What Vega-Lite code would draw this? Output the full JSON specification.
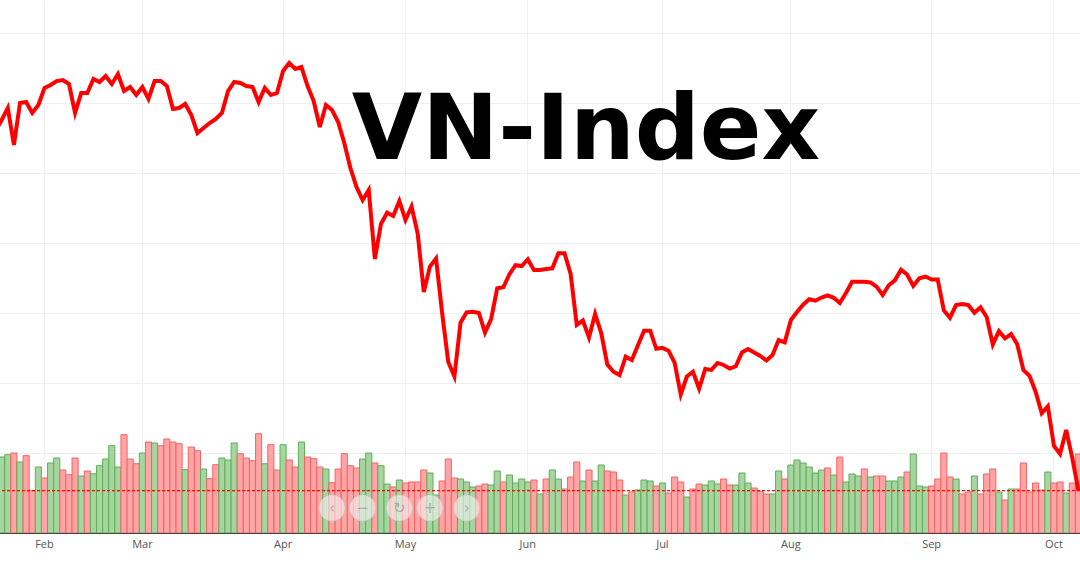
{
"$schema": "https://vega.github.io/schema/vega-lite/v6.json",
"width": 1080, "height": 533,
"autosize": {"type": "none"},
"padding": {"left": 0, "top": 0, "right": 0, "bottom": 51},
"background": "white",
"config": {"view": {"stroke": null}},
"title": {"text": "VN-Index", "font": "DejaVu Sans", "fontSize": 91, "fontWeight": "bold", "color": "#000000", "anchor": "middle", "frame": "group", "orient": "top", "baseline": "alphabetic", "offset": 0, "dx": 46, "dy": 250},
"datasets": {
"days": [
{"date":"2022-01-19","close":1448.0,"volume":700,"dir":"down"},
{"date":"2022-01-20","close":1460.6,"volume":760,"dir":"up"},
{"date":"2022-01-21","close":1474.3,"volume":783,"dir":"up"},
{"date":"2022-01-24","close":1432.0,"volume":800,"dir":"down"},
{"date":"2022-01-25","close":1480.0,"volume":710,"dir":"up"},
{"date":"2022-01-26","close":1481.1,"volume":773,"dir":"down"},
{"date":"2022-01-27","close":1468.6,"volume":426,"dir":"down"},
{"date":"2022-01-28","close":1477.7,"volume":660,"dir":"up"},
{"date":"2022-02-07","close":1497.1,"volume":550,"dir":"down"},
{"date":"2022-02-08","close":1500.6,"volume":700,"dir":"up"},
{"date":"2022-02-09","close":1505.1,"volume":750,"dir":"up"},
{"date":"2022-02-10","close":1506.3,"volume":630,"dir":"down"},
{"date":"2022-02-11","close":1501.7,"volume":583,"dir":"down"},
{"date":"2022-02-14","close":1468.6,"volume":750,"dir":"down"},
{"date":"2022-02-15","close":1491.4,"volume":570,"dir":"up"},
{"date":"2022-02-16","close":1491.4,"volume":620,"dir":"down"},
{"date":"2022-02-17","close":1507.4,"volume":593,"dir":"up"},
{"date":"2022-02-18","close":1504.0,"volume":673,"dir":"up"},
{"date":"2022-02-21","close":1510.9,"volume":740,"dir":"up"},
{"date":"2022-02-22","close":1501.7,"volume":873,"dir":"up"},
{"date":"2022-02-23","close":1513.1,"volume":660,"dir":"up"},
{"date":"2022-02-24","close":1493.7,"volume":983,"dir":"down"},
{"date":"2022-02-25","close":1498.3,"volume":740,"dir":"down"},
{"date":"2022-02-28","close":1489.1,"volume":693,"dir":"down"},
{"date":"2022-03-01","close":1498.3,"volume":800,"dir":"up"},
{"date":"2022-03-02","close":1484.6,"volume":910,"dir":"down"},
{"date":"2022-03-03","close":1505.1,"volume":900,"dir":"up"},
{"date":"2022-03-04","close":1505.1,"volume":873,"dir":"down"},
{"date":"2022-03-07","close":1499.4,"volume":940,"dir":"down"},
{"date":"2022-03-08","close":1473.1,"volume":910,"dir":"down"},
{"date":"2022-03-09","close":1474.3,"volume":893,"dir":"down"},
{"date":"2022-03-10","close":1478.9,"volume":633,"dir":"up"},
{"date":"2022-03-11","close":1466.3,"volume":860,"dir":"down"},
{"date":"2022-03-14","close":1445.7,"volume":823,"dir":"down"},
{"date":"2022-03-15","close":1451.4,"volume":640,"dir":"up"},
{"date":"2022-03-16","close":1457.1,"volume":543,"dir":"down"},
{"date":"2022-03-17","close":1461.7,"volume":683,"dir":"down"},
{"date":"2022-03-18","close":1468.6,"volume":750,"dir":"up"},
{"date":"2022-03-21","close":1493.7,"volume":730,"dir":"up"},
{"date":"2022-03-22","close":1504.0,"volume":900,"dir":"up"},
{"date":"2022-03-23","close":1502.9,"volume":793,"dir":"down"},
{"date":"2022-03-24","close":1499.4,"volume":750,"dir":"down"},
{"date":"2022-03-25","close":1498.3,"volume":723,"dir":"down"},
{"date":"2022-03-28","close":1481.1,"volume":993,"dir":"down"},
{"date":"2022-03-29","close":1497.1,"volume":693,"dir":"up"},
{"date":"2022-03-30","close":1489.1,"volume":883,"dir":"down"},
{"date":"2022-03-31","close":1491.4,"volume":630,"dir":"down"},
{"date":"2022-04-01","close":1516.6,"volume":883,"dir":"up"},
{"date":"2022-04-04","close":1525.7,"volume":730,"dir":"down"},
{"date":"2022-04-05","close":1518.9,"volume":660,"dir":"down"},
{"date":"2022-04-06","close":1521.1,"volume":910,"dir":"up"},
{"date":"2022-04-07","close":1499.4,"volume":760,"dir":"down"},
{"date":"2022-04-08","close":1482.3,"volume":743,"dir":"down"},
{"date":"2022-04-12","close":1452.6,"volume":660,"dir":"down"},
{"date":"2022-04-13","close":1477.7,"volume":640,"dir":"up"},
{"date":"2022-04-14","close":1472.0,"volume":503,"dir":"down"},
{"date":"2022-04-15","close":1458.3,"volume":640,"dir":"down"},
{"date":"2022-04-18","close":1434.3,"volume":793,"dir":"down"},
{"date":"2022-04-19","close":1405.7,"volume":673,"dir":"down"},
{"date":"2022-04-20","close":1384.0,"volume":650,"dir":"down"},
{"date":"2022-04-21","close":1369.1,"volume":740,"dir":"up"},
{"date":"2022-04-22","close":1380.6,"volume":800,"dir":"up"},
{"date":"2022-04-25","close":1301.7,"volume":700,"dir":"down"},
{"date":"2022-04-26","close":1341.7,"volume":673,"dir":"up"},
{"date":"2022-04-27","close":1354.6,"volume":490,"dir":"up"},
{"date":"2022-04-28","close":1350.9,"volume":460,"dir":"down"},
{"date":"2022-04-29","close":1368.0,"volume":530,"dir":"up"},
{"date":"2022-05-04","close":1346.3,"volume":500,"dir":"down"},
{"date":"2022-05-05","close":1361.7,"volume":510,"dir":"down"},
{"date":"2022-05-06","close":1330.9,"volume":510,"dir":"down"},
{"date":"2022-05-09","close":1264.0,"volume":630,"dir":"down"},
{"date":"2022-05-10","close":1293.1,"volume":600,"dir":"up"},
{"date":"2022-05-11","close":1302.3,"volume":380,"dir":"up"},
{"date":"2022-05-12","close":1239.7,"volume":520,"dir":"down"},
{"date":"2022-05-13","close":1184.0,"volume":740,"dir":"down"},
{"date":"2022-05-16","close":1167.4,"volume":550,"dir":"down"},
{"date":"2022-05-17","close":1228.9,"volume":540,"dir":"up"},
{"date":"2022-05-18","close":1240.8,"volume":510,"dir":"up"},
{"date":"2022-05-19","close":1241.5,"volume":460,"dir":"up"},
{"date":"2022-05-20","close":1240.0,"volume":470,"dir":"down"},
{"date":"2022-05-23","close":1217.5,"volume":490,"dir":"down"},
{"date":"2022-05-24","close":1233.1,"volume":480,"dir":"up"},
{"date":"2022-05-25","close":1268.2,"volume":620,"dir":"up"},
{"date":"2022-05-26","close":1269.4,"volume":510,"dir":"down"},
{"date":"2022-05-27","close":1284.3,"volume":580,"dir":"up"},
{"date":"2022-05-30","close":1294.6,"volume":500,"dir":"up"},
{"date":"2022-05-31","close":1293.7,"volume":540,"dir":"up"},
{"date":"2022-06-01","close":1301.4,"volume":510,"dir":"up"},
{"date":"2022-06-02","close":1289.1,"volume":530,"dir":"down"},
{"date":"2022-06-03","close":1289.1,"volume":390,"dir":"up"},
{"date":"2022-06-06","close":1290.3,"volume":540,"dir":"down"},
{"date":"2022-06-07","close":1291.1,"volume":630,"dir":"up"},
{"date":"2022-06-08","close":1308.2,"volume":540,"dir":"up"},
{"date":"2022-06-09","close":1308.2,"volume":440,"dir":"down"},
{"date":"2022-06-10","close":1284.6,"volume":560,"dir":"down"},
{"date":"2022-06-13","close":1226.3,"volume":710,"dir":"down"},
{"date":"2022-06-14","close":1231.4,"volume":520,"dir":"up"},
{"date":"2022-06-15","close":1212.0,"volume":630,"dir":"down"},
{"date":"2022-06-16","close":1238.9,"volume":520,"dir":"up"},
{"date":"2022-06-17","close":1217.1,"volume":680,"dir":"up"},
{"date":"2022-06-20","close":1181.1,"volume":620,"dir":"down"},
{"date":"2022-06-21","close":1172.9,"volume":610,"dir":"down"},
{"date":"2022-06-22","close":1169.1,"volume":530,"dir":"down"},
{"date":"2022-06-23","close":1190.1,"volume":380,"dir":"up"},
{"date":"2022-06-24","close":1186.3,"volume":410,"dir":"down"},
{"date":"2022-06-27","close":1203.1,"volume":430,"dir":"up"},
{"date":"2022-06-28","close":1219.8,"volume":530,"dir":"up"},
{"date":"2022-06-29","close":1219.8,"volume":520,"dir":"up"},
{"date":"2022-06-30","close":1199.1,"volume":470,"dir":"down"},
{"date":"2022-07-01","close":1200.2,"volume":500,"dir":"up"},
{"date":"2022-07-04","close":1196.9,"volume":400,"dir":"down"},
{"date":"2022-07-05","close":1182.9,"volume":560,"dir":"down"},
{"date":"2022-07-06","close":1146.9,"volume":510,"dir":"down"},
{"date":"2022-07-07","close":1167.4,"volume":360,"dir":"up"},
{"date":"2022-07-08","close":1172.9,"volume":440,"dir":"down"},
{"date":"2022-07-11","close":1153.4,"volume":490,"dir":"down"},
{"date":"2022-07-12","close":1176.0,"volume":480,"dir":"up"},
{"date":"2022-07-13","close":1174.9,"volume":520,"dir":"up"},
{"date":"2022-07-14","close":1182.9,"volume":490,"dir":"up"},
{"date":"2022-07-15","close":1180.6,"volume":540,"dir":"down"},
{"date":"2022-07-18","close":1176.5,"volume":480,"dir":"down"},
{"date":"2022-07-19","close":1179.1,"volume":480,"dir":"up"},
{"date":"2022-07-20","close":1194.9,"volume":600,"dir":"up"},
{"date":"2022-07-21","close":1198.9,"volume":500,"dir":"up"},
{"date":"2022-07-22","close":1194.9,"volume":450,"dir":"down"},
{"date":"2022-07-25","close":1190.9,"volume":413,"dir":"down"},
{"date":"2022-07-26","close":1185.7,"volume":390,"dir":"down"},
{"date":"2022-07-27","close":1192.0,"volume":390,"dir":"up"},
{"date":"2022-07-28","close":1209.1,"volume":620,"dir":"up"},
{"date":"2022-07-29","close":1206.5,"volume":540,"dir":"down"},
{"date":"2022-08-01","close":1232.0,"volume":680,"dir":"up"},
{"date":"2022-08-02","close":1241.1,"volume":730,"dir":"up"},
{"date":"2022-08-03","close":1249.5,"volume":700,"dir":"up"},
{"date":"2022-08-04","close":1255.7,"volume":660,"dir":"up"},
{"date":"2022-08-05","close":1254.1,"volume":600,"dir":"up"},
{"date":"2022-08-08","close":1257.7,"volume":630,"dir":"up"},
{"date":"2022-08-09","close":1260.2,"volume":650,"dir":"down"},
{"date":"2022-08-10","close":1257.4,"volume":580,"dir":"up"},
{"date":"2022-08-11","close":1251.4,"volume":760,"dir":"down"},
{"date":"2022-08-12","close":1262.9,"volume":510,"dir":"up"},
{"date":"2022-08-15","close":1275.8,"volume":590,"dir":"up"},
{"date":"2022-08-16","close":1275.8,"volume":570,"dir":"up"},
{"date":"2022-08-17","close":1275.8,"volume":640,"dir":"down"},
{"date":"2022-08-18","close":1274.9,"volume":560,"dir":"up"},
{"date":"2022-08-19","close":1270.1,"volume":570,"dir":"down"},
{"date":"2022-08-22","close":1260.6,"volume":570,"dir":"down"},
{"date":"2022-08-23","close":1271.7,"volume":520,"dir":"up"},
{"date":"2022-08-24","close":1277.3,"volume":520,"dir":"up"},
{"date":"2022-08-25","close":1289.5,"volume":560,"dir":"up"},
{"date":"2022-08-26","close":1284.0,"volume":610,"dir":"down"},
{"date":"2022-08-29","close":1270.9,"volume":790,"dir":"up"},
{"date":"2022-08-30","close":1279.7,"volume":470,"dir":"up"},
{"date":"2022-08-31","close":1281.7,"volume":460,"dir":"up"},
{"date":"2022-09-05","close":1278.3,"volume":470,"dir":"down"},
{"date":"2022-09-06","close":1278.3,"volume":540,"dir":"down"},
{"date":"2022-09-07","close":1242.9,"volume":800,"dir":"down"},
{"date":"2022-09-08","close":1234.6,"volume":560,"dir":"down"},
{"date":"2022-09-09","close":1249.1,"volume":540,"dir":"up"},
{"date":"2022-09-12","close":1250.3,"volume":390,"dir":"down"},
{"date":"2022-09-13","close":1249.1,"volume":410,"dir":"down"},
{"date":"2022-09-14","close":1240.2,"volume":570,"dir":"up"},
{"date":"2022-09-15","close":1246.5,"volume":390,"dir":"down"},
{"date":"2022-09-16","close":1235.4,"volume":590,"dir":"down"},
{"date":"2022-09-19","close":1204.0,"volume":640,"dir":"down"},
{"date":"2022-09-20","close":1219.2,"volume":410,"dir":"up"},
{"date":"2022-09-21","close":1211.1,"volume":330,"dir":"down"},
{"date":"2022-09-22","close":1216.0,"volume":440,"dir":"up"},
{"date":"2022-09-23","close":1204.3,"volume":440,"dir":"down"},
{"date":"2022-09-26","close":1174.9,"volume":700,"dir":"down"},
{"date":"2022-09-27","close":1168.2,"volume":410,"dir":"down"},
{"date":"2022-09-28","close":1150.1,"volume":500,"dir":"down"},
{"date":"2022-09-29","close":1125.4,"volume":430,"dir":"down"},
{"date":"2022-09-30","close":1133.3,"volume":610,"dir":"up"},
{"date":"2022-10-03","close":1088.0,"volume":500,"dir":"down"},
{"date":"2022-10-04","close":1078.9,"volume":510,"dir":"down"},
{"date":"2022-10-05","close":1106.3,"volume":400,"dir":"up"},
{"date":"2022-10-06","close":1074.2,"volume":500,"dir":"down"},
{"date":"2022-10-07","close":1036.9,"volume":790,"dir":"down"}
],
"buttons": [
{"date":"2022-04-14","icon":"‹"},
{"date":"2022-04-21","icon":"−"},
{"date":"2022-04-29","icon":"↻"},
{"date":"2022-05-10","icon":"+"},
{"date":"2022-05-18","icon":"›"}
]
},
"layer": [
{"layer": [
{"data": {"name": "days"},
 "mark": {"type": "bar", "strokeWidth": 1, "width": {"band": 1}, "clip": true},
 "encoding": {
  "x": {"field": "date", "type": "ordinal", "scale": {"type": "band", "range": [-7.51, 1081.49], "paddingInner": 0, "paddingOuter": 0}, "axis": {"values": ["2022-02-07","2022-03-01","2022-04-01","2022-05-04","2022-06-01","2022-07-01","2022-08-01","2022-09-05","2022-10-03"], "labelExpr": "utcFormat(toDate(datum.value), '%b')", "bandPosition": 0.5, "grid": true, "gridColor": "#efefef", "ticks": false, "tickSize": 0, "labelPadding": 5, "labelAngle": 0, "domainColor": "#444444", "domainWidth": 1, "labelFont": "Open Sans", "labelFontSize": 11, "labelColor": "#555555", "title": null}},
  "y": {"field": "volume", "type": "quantitative", "scale": {"domain": [0, 5330], "nice": false, "zero": true}, "axis": null},
  "color": {"field": "dir", "type": "nominal", "scale": {"domain": ["up", "down"], "range": ["#a6d5a0", "#ffa5a5"]}, "legend": null},
  "stroke": {"field": "dir", "type": "nominal", "scale": {"domain": ["up", "down"], "range": ["#5eae5b", "#f26464"]}, "legend": null},
  "opacity": {"value": 1}
 }},
{"data": {"name": "buttons"},
 "mark": {"type": "point", "shape": "circle", "filled": true, "size": 700, "fill": "#f2f2f2", "fillOpacity": 0.62, "stroke": "#bdbdbd", "strokeOpacity": 0.6, "strokeWidth": 1, "opacity": 1},
 "encoding": {
  "x": {"field": "date", "type": "ordinal"},
  "y": {"datum": 250, "type": "quantitative"}
 }},
{"data": {"name": "buttons"},
 "mark": {"type": "text", "font": "DejaVu Sans", "fontSize": 15, "color": "#8a8a8a", "opacity": 0.6, "baseline": "middle", "align": "center"},
 "encoding": {
  "x": {"field": "date", "type": "ordinal"},
  "y": {"datum": 250, "type": "quantitative"},
  "text": {"field": "icon"}
 }}
]},
{"layer": [
{"data": {"name": "days"},
 "transform": [{"filter": "datum.date == '2022-10-07'"}],
 "mark": {"type": "rule", "color": "#ff0000", "strokeWidth": 1.3, "strokeDash": [3, 2]},
 "encoding": {
  "y": {"field": "close", "type": "quantitative", "scale": {"domain": [988.571, 1597.714], "nice": false, "zero": false}}
 }},
{"data": {"name": "days"},
 "mark": {"type": "line", "color": "#ff0000", "strokeWidth": 4, "clip": true},
 "encoding": {
  "x": {"field": "date", "type": "ordinal"},
  "y": {"field": "close", "type": "quantitative", "scale": {"domain": [988.571, 1597.714], "nice": false, "zero": false}, "axis": {"values": [1000,1040,1080,1120,1160,1200,1240,1280,1320,1360,1400,1440,1480,1520,1560], "grid": true, "gridColor": "#efefef", "labels": false, "ticks": false, "domain": false, "title": null}}
 }}
]}
],
"resolve": {"scale": {"y": "independent"}}
}
